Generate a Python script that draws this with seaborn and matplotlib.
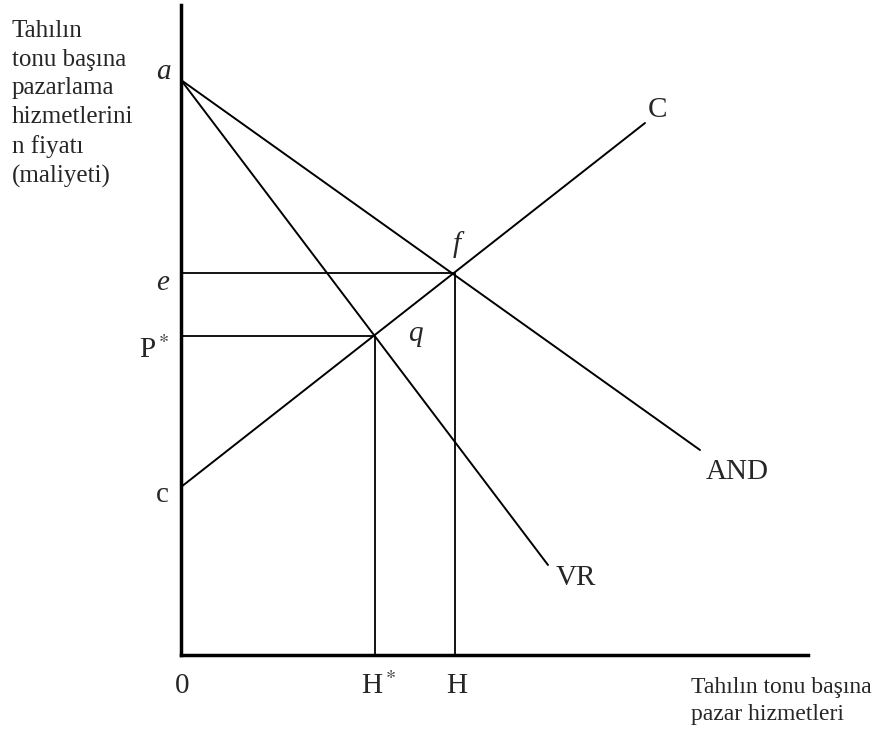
import pandas as pd
import seaborn as sns
import matplotlib.pyplot as plt

sns.set_style("white")
plt.rcParams['font.family'] = ['Liberation Serif', 'DejaVu Serif']
plt.rcParams['mathtext.fontset'] = 'stix'

# curve endpoints (quantity, price)
and_x = [0, 519]
and_y = [575, 205]
vr_x = [0, 367]
vr_y = [575, 90]
c_x = [0, 464]
c_y = [168, 532]

# equilibrium levels
e_level, H_level = 382, 274        # point f
p_star, H_star = 319, 194          # point q

curves = pd.DataFrame({
    "x": and_x + vr_x + c_x,
    "y": and_y + vr_y + c_y,
    "line": ["AND"] * 2 + ["VR"] * 2 + ["C"] * 2,
})
guides = pd.DataFrame({
    "x": [0, H_level, H_level, 0, H_star, H_star],
    "y": [e_level, e_level, 0, p_star, p_star, 0],
    "line": ["f"] * 3 + ["q"] * 3,
})

fig = plt.figure(figsize=(8.74, 7.33), dpi=100)
ax = fig.add_axes([181 / 874, 78 / 733, 627 / 874, 650 / 733])

sns.lineplot(data=curves, x="x", y="y", units="line", estimator=None, sort=False,
             color="black", lw=1.4, ax=ax)
sns.lineplot(data=guides, x="x", y="y", units="line", estimator=None, sort=False,
             color="black", lw=1.3, ax=ax)

ax.set_xlim(0, 627)
ax.set_ylim(0, 650)
for s in ["top", "right"]:
    ax.spines[s].set_visible(False)
for s in ["left", "bottom"]:
    ax.spines[s].set_linewidth(2.5)
    ax.spines[s].set_color("black")
ax.set_xticks([])
ax.set_yticks([])
ax.set_xlabel("")
ax.set_ylabel("")

fs = 21
# point labels
ax.text(-10, and_y[0] + 8, "a", style="italic", fontsize=fs, ha="right", va="center")
ax.text(-12, e_level - 10, "e", style="italic", fontsize=fs, ha="right", va="center")
ax.text(-12, p_star - 14, "P$^*$", fontsize=fs, ha="right", va="center")
ax.text(-12, c_y[0] - 8, "c", fontsize=fs, ha="right", va="center")
ax.text(H_level + 2, e_level + 28, "f", style="italic", fontsize=fs, ha="center", va="center")
ax.text(H_star + 40, p_star + 2, "q", style="italic", fontsize=fs, ha="center", va="center")
ax.text(c_x[1] + 3, c_y[1] + 13, "C", fontsize=fs, ha="left", va="center")
ax.text(and_x[1] + 6, and_y[1] - 22, "AND", fontsize=fs, ha="left", va="center")
ax.text(vr_x[1] + 8, vr_y[1] - 13, "VR", fontsize=fs, ha="left", va="center")
ax.text(1, -31, "0", fontsize=fs, ha="center", va="center")
ax.text(H_star + 4, -31, "H$^*$", fontsize=fs, ha="center", va="center")
ax.text(H_level + 2, -31, "H", fontsize=fs, ha="center", va="center")

# axis titles
fig.text(12 / 874, 1 - 20 / 733,
         "Tahılın\ntonu başına\npazarlama\nhizmetlerini\nn fiyatı\n(maliyeti)",
         fontsize=18, ha="left", va="top", linespacing=1.39)
fig.text(691 / 874, 1 - 677 / 733, "Tahılın tonu başına\npazar hizmetleri",
         fontsize=17, ha="left", va="top", linespacing=1.39)

fig.savefig("out.png", dpi=100)
